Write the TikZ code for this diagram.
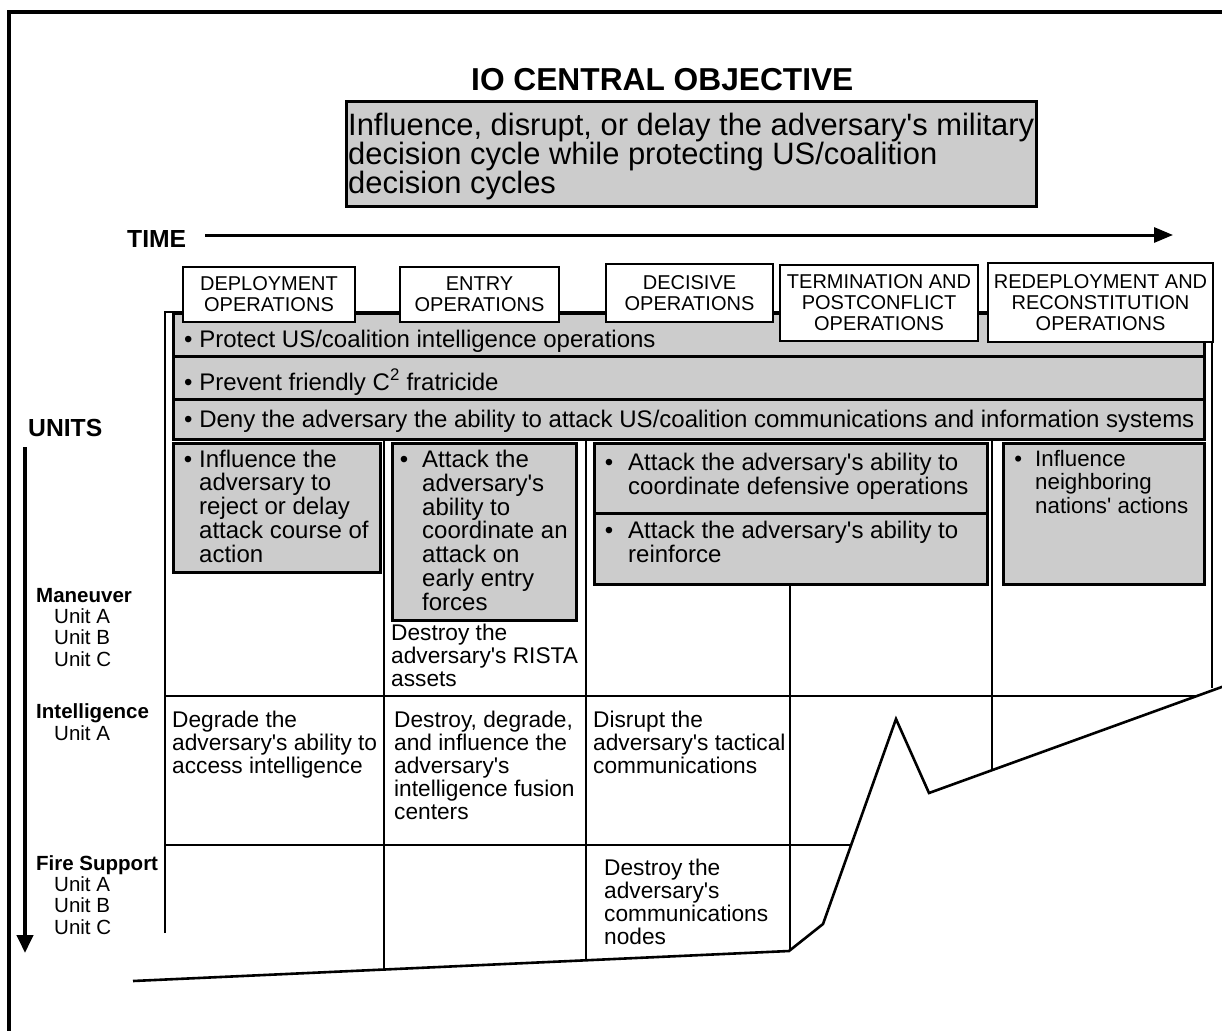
\documentclass[tikz,border=0pt]{standalone}
\usepackage{fontspec}
\setmainfont{Liberation Sans}[Ligatures=TeXOff]
\usepackage{xcolor}
\usetikzlibrary{arrows.meta,positioning}
\definecolor{boxgray}{gray}{0.8}
\newcommand{\hangbul}[1][8]{\llap{\textbullet\hspace{#1pt}}}
\newcommand{\unitind}{\hspace*{18pt}}

\begin{document}
\begin{tikzpicture}[x=1pt,y=-1pt,
    gridline/.style={line width=2.6pt},
    graybox/.style={draw,line width=2.6pt,fill=boxgray,inner sep=0pt,anchor=north west},
    phasebox/.style={draw,line width=2.6pt,fill=white,inner sep=0pt,align=center,font=\fontsize{20}{21}\selectfont},
    boxtext/.style={anchor=base west,inner sep=0pt,align=left,font=\fontsize{24}{23.7}\selectfont},
    celltext/.style={anchor=base west,inner sep=0pt,align=left,font=\fontsize{22.7}{23}\selectfont},
    unitlabel/.style={anchor=base west,inner sep=0pt,align=left,font=\fontsize{20.5}{21.3}\selectfont},
    heading/.style={anchor=base west,inner sep=0pt,font=\bfseries\fontsize{24.7}{25}\selectfont}]
\useasboundingbox (0,0) rectangle (1222,1030);
\clip (0,0) rectangle (1222,1030);
\draw[line width=4pt] (8.5,1040) -- (8.5,12.5) -- (1240,12.5);

% multi-line nodes sit on the baseline of their last line
\node[anchor=base west,inner sep=0pt,font=\bfseries\fontsize{31.7}{32}\selectfont] (title) at (471,91) {IO CENTRAL OBJECTIVE};
\node[graybox,minimum width=690,minimum height=105] (objbox) at (345,100) {};
\node[anchor=base west,inner sep=0pt,align=left,font=\fontsize{30.9}{29}\selectfont] (objective) at (348,193) {Influence, disrupt, or delay the adversary's military\\decision cycle while protecting US/coalition\\decision cycles};

\node[heading] (time) at (127,247) {TIME};
\coordinate (timestart) at (205,235);
\coordinate (timeend) at (1173,235);
\draw[line width=3pt,-{Triangle[length=19pt,width=15pt]}] (timestart) -- (timeend);

\node[heading] (units) at (28,436) {UNITS};
\coordinate (unitstop) at (25,447);
\coordinate (unitsend) at (25,953);
\draw[line width=4pt,-{Triangle[length=18pt,width=16pt]}] (unitstop) -- (unitsend);
\node[unitlabel] (maneuver) at (36,666) {\textbf{Maneuver}\\\unitind Unit A\\\unitind Unit B\\\unitind Unit C};
\node[unitlabel] (intel) at (36,740) {\textbf{Intelligence}\\\unitind Unit A};
\node[unitlabel] (fires) at (36,934) {\textbf{Fire Support}\\\unitind Unit A\\\unitind Unit B\\\unitind Unit C};

\draw[gridline] (165,933) -- (165,312) -- (1212,312) -- (1212,688);
\node[graybox,minimum width=1031,minimum height=43] (protect) at (172,312) {};
\node[graybox,minimum width=1031,minimum height=43] (prevent) at (172,355) {};
\node[graybox,minimum width=1031,minimum height=40] (deny) at (172,398) {};
\node[boxtext] (protecttext) at (184,347) {\textbullet{} Protect US/coalition intelligence operations};
\node[boxtext] (preventtext) at (184,390) {\textbullet{} Prevent friendly C\textsuperscript{2} fratricide};
\node[boxtext] (denytext) at (184,427) {\textbullet{} Deny the adversary the ability to attack US/coalition communications and information systems};

\draw[gridline] (384,438) -- (384,969.5);
\draw[gridline] (586,438) -- (586,960);
\draw[gridline] (790,583) -- (790,951);
\draw[gridline] (992,438) -- (992,770);
\draw[gridline] (165,696) -- (1197,696);
\draw[gridline] (165,845) -- (851,845);
\draw[gridline] (133,981) -- (789,951) -- (823,924) -- (896,719) -- (929,793) -- (1230,684);

\node[graybox,minimum width=207,minimum height=129] (rejectbox) at (172,442) {};
\node[graybox,minimum width=184,minimum height=177] (earlybox) at (391,442) {};
\node[graybox,minimum width=393,minimum height=70] (defensebox) at (593,442) {};
\node[graybox,minimum width=393,minimum height=71] (reinforcebox) at (593,512) {};
\node[graybox,minimum width=201,minimum height=141] (neighborbox) at (1002,442) {};

\node[boxtext] (rejecttext) at (199,562) {\hangbul[7]Influence the\\adversary to\\reject or delay\\attack course of\\action};
\node[boxtext] (earlytext) at (422,610) {\hangbul[14]Attack the\\adversary's\\ability to\\coordinate an\\attack on\\early entry\\forces};
\node[boxtext] (defensetext) at (628,494) {\hangbul[15]Attack the adversary's ability to\\coordinate defensive operations};
\node[boxtext] (reinforcetext) at (628,562) {\hangbul[15]Attack the adversary's ability to\\reinforce};
\node[boxtext,font=\fontsize{22.3}{23.2}\selectfont] (neighbortext) at (1035,513) {\hangbul[13]Influence\\neighboring\\nations' actions};

\node[celltext] (rista) at (391,686) {Destroy the\\adversary's RISTA\\assets};
\node[celltext] (degrade) at (172,773) {Degrade the\\adversary's ability to\\access intelligence};
\node[celltext] (fusion) at (394,819) {Destroy, degrade,\\and influence the\\adversary's\\intelligence fusion\\centers};
\node[celltext] (tactical) at (593,773) {Disrupt the\\adversary's tactical\\communications};
\node[celltext] (commnodes) at (604,944) {Destroy the\\adversary's\\communications\\nodes};

\node[phasebox,minimum width=172,minimum height=55] (deploy) at (269,294.5) {DEPLOYMENT\\OPERATIONS};
\node[phasebox,minimum width=159,minimum height=55] (entry) at (479.5,294.5) {ENTRY\\OPERATIONS};
\node[phasebox,minimum width=167,minimum height=58] (decisive) at (689.5,293) {DECISIVE\\OPERATIONS};
\node[phasebox,minimum width=198,minimum height=76] (termination) at (879,303) {TERMINATION AND\\POSTCONFLICT\\OPERATIONS};
\node[phasebox,minimum width=225,minimum height=79] (redeploy) at (1100.5,302.5) {REDEPLOYMENT AND\\RECONSTITUTION\\OPERATIONS};
\end{tikzpicture}
\end{document}
